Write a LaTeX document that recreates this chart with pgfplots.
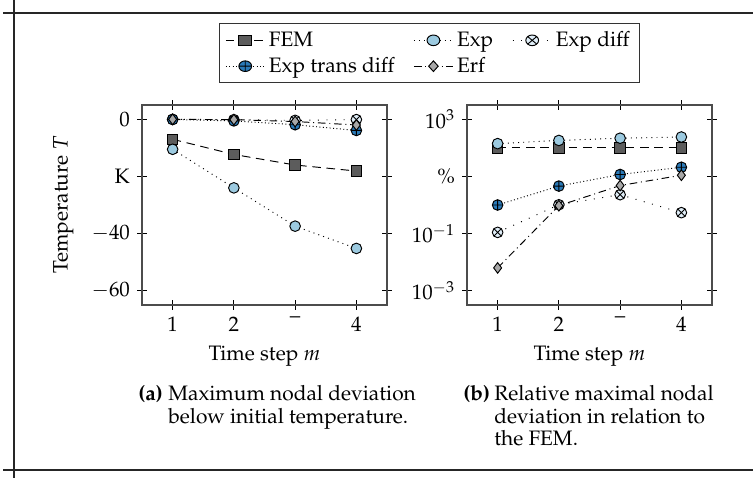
\documentclass[border=0pt]{standalone}
\usepackage[T1]{fontenc}
\usepackage{mathpazo}
\usepackage{pgfplots}
\pgfplotsset{compat=1.18}
\usetikzlibrary{plotmarks}
\definecolor{femfill}{HTML}{5C5C5C}
\definecolor{expfill}{HTML}{9CCAE0}
\definecolor{diffill}{HTML}{E0EEF8}
\definecolor{transfill}{HTML}{2A7AB8}
\definecolor{erffill}{HTML}{A8A8A8}
\pgfplotsset{
  common/.style={
    scale only axis, width=128.95pt, height=105.26pt,
    xmin=0.5, xmax=4.5, xtick={1,2,3,4}, xticklabels={1,2,--,4},
    tick align=center, major tick length=5pt,
    axis line style={draw=black!70, line width=0.6pt},
    tick style={black, line width=0.5pt},
    xlabel={Time step $m$},
    every axis plot/.append style={black, line width=0.5pt, mark size=2.8pt, mark options={solid, draw=black, line width=0.5pt}},
  },
  femst/.style={dash pattern=on 4.5pt off 3pt, mark=square*, mark options={solid, fill=femfill}},
  expst/.style={dash pattern=on 0.5pt off 2.2pt, mark=*, mark options={solid, fill=expfill}},
  difst/.style={dash pattern=on 0.5pt off 4pt, mark=otimes*, mark options={solid, fill=diffill}},
  trsst/.style={dash pattern=on 0.5pt off 1.3pt, mark=oplus*, mark options={solid, fill=transfill}},
  erfst/.style={dash pattern=on 4pt off 2pt on 0.5pt off 2pt, mark=diamond*, mark options={solid, fill=erffill}},
}
\begin{document}
\fontsize{11}{13.6}\selectfont
\begin{tikzpicture}
\useasboundingbox (0,0) rectangle (396.32pt,-251.58pt);
\draw[line width=0.7pt, black!85] (1.58pt,-6.84pt) -- (396.32pt,-6.84pt);
\draw[line width=0.7pt, black!85] (1.58pt,-247.37pt) -- (396.32pt,-247.37pt);
\draw[line width=0.7pt, black!85] (7.37pt,0pt) -- (7.37pt,-251.58pt);
\begin{axis}[common, at={(74.74pt,-160.53pt)}, anchor=south west,
  ymin=-65, ymax=5, ytick={-60,-40,-20,0}, yticklabels={$-60$,$-40$,K,$0$},
  ylabel={Temperature $T$},
  ylabel style={yshift=2pt},
  legend columns=3,
  legend cell align=left,
  legend style={at={(1.173,1.41)}, anchor=north, draw=black!80, line width=0.6pt,
    /tikz/every even column/.append style={column sep=8pt}},
  legend image post style={xscale=1.2},
]
\addplot[femst] coordinates {(1,-7.0) (2,-12.3) (3,-16.0) (4,-18.1)};
\addlegendentry{FEM}
\addplot[expst] coordinates {(1,-10.5) (2,-24.0) (3,-37.4) (4,-45.2)};
\addlegendentry{Exp}
\addplot[difst] coordinates {(1,-0.01) (2,-0.12) (3,-0.37) (4,-0.1)};
\addlegendentry{Exp diff}
\addplot[trsst] coordinates {(1,-0.07) (2,-0.56) (3,-1.9) (4,-3.9)};
\addlegendentry{Exp trans diff}
\addplot[erfst] coordinates {(1,0.0) (2,-0.12) (3,-0.77) (4,-2.0)};
\addlegendentry{Erf}
\end{axis}
\begin{axis}[common, at={(245.79pt,-160.53pt)}, anchor=south west,
  ymode=log, ymin=3.1623e-4, ymax=3162.3,
  ytick={1e-3,1e-1,1e1,1e3}, yticklabels={$10^{-3}$,$10^{-1}$,\%,$10^{3}$},
  yminorticks=false,
]
\addplot[femst] coordinates {(1,100) (2,100) (3,100) (4,100)};
\addplot[expst] coordinates {(1,141) (2,182) (3,218) (4,240)};
\addplot[difst] coordinates {(1,0.11) (2,1.02) (3,2.3) (4,0.54)};
\addplot[trsst] coordinates {(1,1.0) (2,4.6) (3,11.7) (4,21)};
\addplot[erfst] coordinates {(1,0.0063) (2,0.95) (3,4.8) (4,11)};
\end{axis}
\node[anchor=base west, inner sep=0pt] at (72.63pt,-211.05pt) {\textbf{(a)}};
\node[anchor=base west, inner sep=0pt] at (88.42pt,-211.05pt) {Maximum nodal deviation};
\node[anchor=base west, inner sep=0pt] at (88.42pt,-222.9pt) {below initial temperature.};
\node[anchor=base west, inner sep=0pt] at (243.68pt,-211.05pt) {\textbf{(b)}};
\node[anchor=base west, inner sep=0pt] at (260.0pt,-211.05pt) {Relative maximal nodal};
\node[anchor=base west, inner sep=0pt] at (260.0pt,-222.9pt) {deviation in relation to};
\node[anchor=base west, inner sep=0pt] at (260.0pt,-234.7pt) {the FEM.};
\end{tikzpicture}
\end{document}
